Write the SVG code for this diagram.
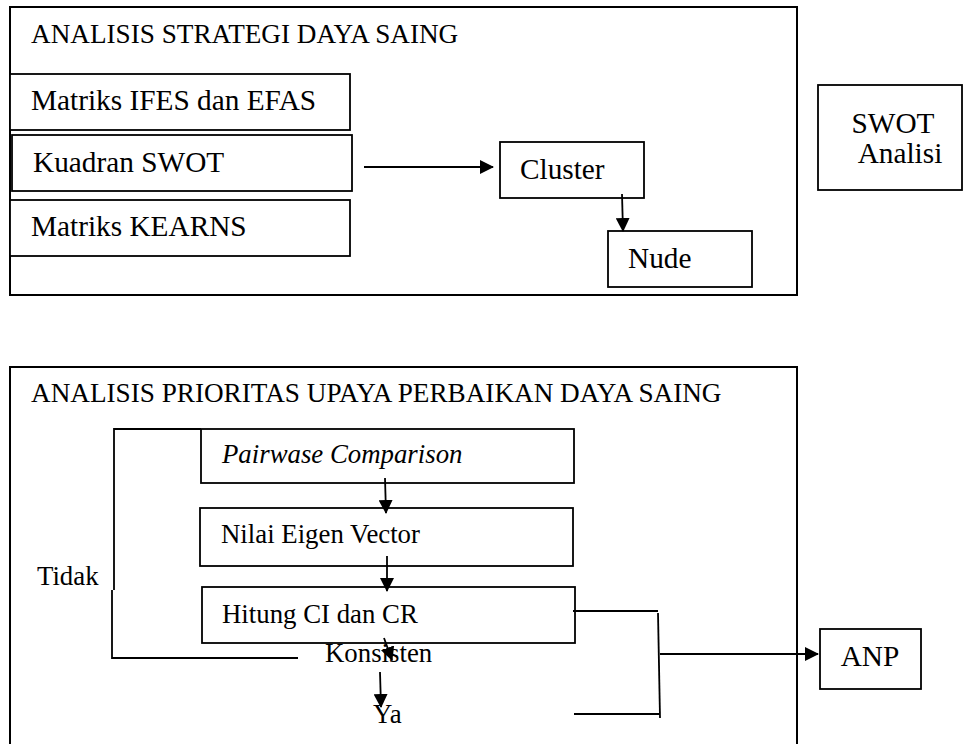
<svg xmlns="http://www.w3.org/2000/svg" width="964" height="744" viewBox="0 0 964 744">
<style>
.box{fill:#fff;stroke:#000;stroke-width:1.8}
.outer{fill:none;stroke:#000;stroke-width:2}
.t{font-family:"Liberation Serif","Times New Roman",serif;fill:#000}
.ttl{font-size:27.2px}
.big{font-size:29.3px}
.mid{font-size:26.8px}
.ln{fill:none;stroke:#000;stroke-width:1.8}
</style>
<defs>
<marker id="ah" markerUnits="userSpaceOnUse" markerWidth="14" markerHeight="14" viewBox="0 0 14 14" refX="13" refY="7" orient="auto">
<path d="M0,0 L14,7 L0,14 Z" fill="#000"/>
</marker>
</defs>
<g id="top-panel">
<rect class="outer" x="10" y="7" width="787" height="288"/>
<text class="t ttl" x="31" y="43">ANALISIS STRATEGI DAYA SAING</text>
</g>
<g id="ifes"><rect class="box" x="10" y="74" width="340" height="56"/><text class="t big" x="31" y="110">Matriks IFES dan EFAS</text></g>
<g id="kuadran"><rect class="box" x="12" y="135" width="340" height="56"/><text class="t big" x="33" y="172">Kuadran SWOT</text></g>
<g id="kearns"><rect class="box" x="10" y="200" width="340" height="56"/><text class="t big" x="31" y="236">Matriks KEARNS</text></g>
<g id="cluster"><rect class="box" x="500" y="142" width="144" height="56"/><text class="t big" x="520" y="179">Cluster</text></g>
<g id="nude"><rect class="box" x="608" y="231" width="144" height="56"/><text class="t big" x="628" y="268">Nude</text></g>
<g id="swot"><rect class="box" x="818" y="85" width="144" height="105"/><text class="t big" x="893" y="133" text-anchor="middle">SWOT</text><text class="t big" x="900" y="163" text-anchor="middle">Analisi</text></g>
<g id="bottom-panel">
<path class="outer" d="M10,745 V367 H797 V745"/>
<text class="t ttl" x="31" y="402">ANALISIS PRIORITAS UPAYA PERBAIKAN DAYA SAING</text>
</g>
<g id="pairwise"><rect class="box" x="201" y="429" width="373" height="54"/><text class="t mid" x="222" y="463" font-style="italic">Pairwase Comparison</text></g>
<g id="eigen"><rect class="box" x="200" y="508" width="373" height="58"/><text class="t mid" x="221" y="543">Nilai Eigen Vector</text></g>
<g id="hitung"><rect class="box" x="202" y="587" width="373" height="56"/><text class="t mid" x="222" y="623">Hitung CI dan CR</text></g>
<g id="konsisten"><text class="t mid" x="325" y="662">Konsisten</text></g>
<g id="ya"><text class="t mid" x="373" y="723">Ya</text></g>
<g id="tidak"><text class="t mid" x="37" y="585">Tidak</text></g>
<g id="anp"><rect class="box" x="820" y="629" width="101" height="60"/><text class="t big" x="870" y="666" text-anchor="middle">ANP</text></g>
<g id="connectors">
<line class="ln" x1="364" y1="167" x2="493" y2="167" marker-end="url(#ah)"/>
<line class="ln" x1="622" y1="194" x2="623" y2="231" marker-end="url(#ah)"/>
<line class="ln" x1="385" y1="478" x2="386" y2="513" marker-end="url(#ah)"/>
<line class="ln" x1="387" y1="556" x2="387" y2="591" marker-end="url(#ah)"/>
<line class="ln" x1="384" y1="638" x2="392" y2="660" marker-end="url(#ah)"/>
<line class="ln" x1="380" y1="672" x2="381" y2="707" marker-end="url(#ah)"/>
<path class="ln" d="M201,429 H114 V590"/>
<path class="ln" d="M112,590 V658 H298"/>
<path class="ln" d="M573,611 H658"/>
<path class="ln" d="M658,613 L660,718"/>
<path class="ln" d="M574,714 H660"/>
<line class="ln" x1="660" y1="654" x2="818" y2="654" marker-end="url(#ah)"/>
</g>
</svg>
